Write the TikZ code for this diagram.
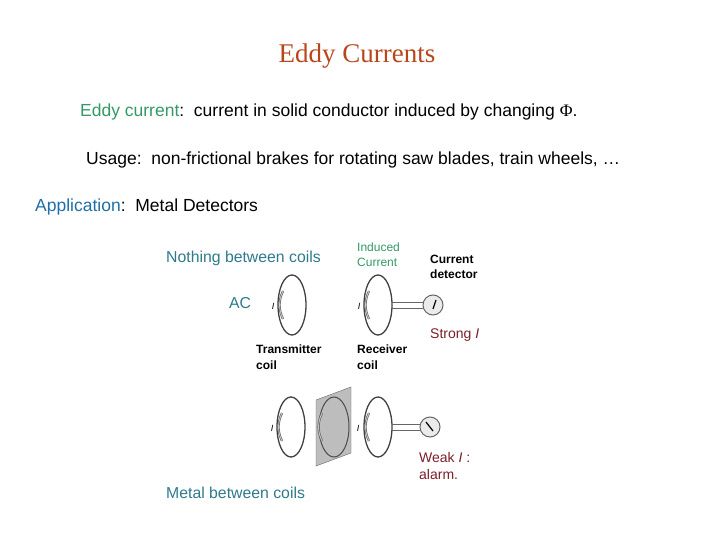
\documentclass[tikz,border=0pt]{standalone}
\usepackage{fontspec}
\setmainfont{Liberation Sans}
\newfontfamily\seriff{Liberation Serif}
\definecolor{titlec}{HTML}{B8461B}
\definecolor{greenc}{HTML}{339966}
\definecolor{bluec}{HTML}{1F6FA8}
\definecolor{tealc}{HTML}{2E7A8C}
\definecolor{redc}{HTML}{7A1F2A}
\definecolor{plate}{HTML}{BDBDBD}
\begin{document}
\begin{tikzpicture}[x=1pt,y=-1pt,
  txt/.style={anchor=west,inner sep=0pt,font=\fontsize{17.5}{20}\selectfont},
  small/.style={anchor=west,inner sep=0pt,align=left,font=\fontsize{12}{15}\selectfont},
  bold/.style={small,font=\fontsize{12}{15.5}\selectfont\bfseries},
  coil/.style={draw=black!75,line width=1.3pt},
  wire/.style={draw=black!60,line width=1pt},
  arr/.style={draw=black!60,line width=0.7pt,double=black!20,double distance=0.8pt}]
\useasboundingbox (0,0) rectangle (720,540);
\node[inner sep=0pt,text=titlec,font=\seriff\fontsize{27}{30}\selectfont] (title) at (357,56) {Eddy Currents};
\node[txt] (l1) at (80,112) {\textcolor{greenc}{Eddy current}:\ \ current in solid conductor induced by changing {\seriff Φ}.};
\node[txt] (l2) at (86,160) {Usage:\ \ non-frictional brakes for rotating saw blades, train wheels, …};
\node[txt] (l3) at (35,207) {\textcolor{bluec}{Application}:\ \ Metal Detectors};
\node[txt,text=tealc,font=\fontsize{15.8}{18}\selectfont] (nb) at (166,258) {Nothing between coils};
\node[txt,text=tealc,font=\fontsize{15.8}{18}\selectfont] (ac) at (229,303) {AC};
\node[small,text=greenc] (ic) at (357,255) {Induced\\Current};
\node[bold] (cd) at (430,267) {Current\\detector};
\node[txt,text=redc,font=\fontsize{14}{16}\selectfont] (st) at (430,335) {Strong \textit{I}};
\node[bold] (tc) at (256,357) {Transmitter\\coil};
\node[bold] (rc) at (357,357) {Receiver\\coil};
\node[small,text=redc,font=\fontsize{14}{17}\selectfont] (wk) at (419,466) {Weak \textit{I} :\\alarm.};
\node[txt,text=tealc,font=\fontsize{15.8}{18}\selectfont] (mb) at (166,493) {Metal between coils};
% top row
\draw[coil] (292,305) ellipse [x radius=14,y radius=30];
\draw[coil] (378,305) ellipse [x radius=14,y radius=30];
\draw[wire] (392,302) -- (424,302);
\draw[wire] (392,308) -- (424,308);
\draw[draw=black!60,fill=black!8,line width=1pt] (433,305) circle (10);
\draw[black,line width=1.2pt] (433,309) -- (436,300);
\draw[arr] (283,291) to[bend right=25] (283,319);
\draw[arr] (369,291) to[bend right=25] (369,319);
\node[inner sep=0pt,font=\fontsize{9}{10}\selectfont\itshape] (i1) at (273,306) {I};
\node[inner sep=0pt,font=\fontsize{9}{10}\selectfont\itshape] (i2) at (359,306) {I};
% bottom row
\draw[coil] (291,427) ellipse [x radius=14,y radius=30];
\draw[draw=black!60,fill=plate] (316,400) -- (351,387) -- (351,453) -- (316,466) -- cycle;
\draw[draw=black!70,line width=1pt] (334,427) ellipse [x radius=15,y radius=30];
\draw[coil] (378,427) ellipse [x radius=14,y radius=30];
\draw[wire] (392,424) -- (421,424);
\draw[wire] (392,430) -- (421,430);
\draw[draw=black!60,fill=black!8,line width=1pt] (430,427) circle (10);
\draw[black,line width=1.2pt] (433,431) -- (426,422);
\draw[arr] (282,413) to[bend right=25] (282,441);
\draw[arr] (322,413) to[bend right=25] (322,441);
\draw[arr] (369,413) to[bend right=25] (369,441);
\node[inner sep=0pt,font=\fontsize{9}{10}\selectfont\itshape] (i3) at (272,428) {I};
\node[inner sep=0pt,font=\fontsize{9}{10}\selectfont\itshape] (i4) at (358,428) {I};
\end{tikzpicture}
\end{document}
